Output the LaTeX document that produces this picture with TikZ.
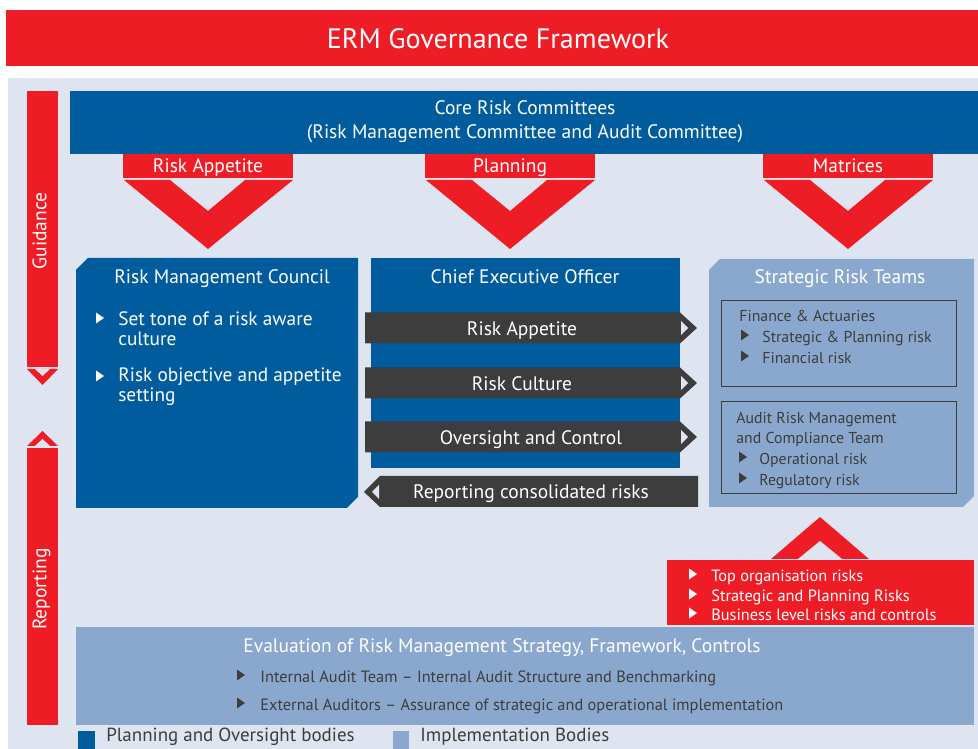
\documentclass[tikz,border=0pt]{standalone}
\usepackage{fontspec}
\setmainfont{PT Sans}
\usepackage{tikz}
\usetikzlibrary{positioning, calc}
\definecolor{ermred}{HTML}{EE1D25}
\definecolor{ermblue}{HTML}{005C9C}
\definecolor{ermlight}{HTML}{8AA8CE}
\definecolor{ermbg}{HTML}{DEE5F0}
\definecolor{ermgray}{HTML}{3D3D3D}
% small bullet triangle: x, y, colour
\newcommand{\bultri}[3]{\fill[#3] (#1,#2-5.5) -- (#1+8,#2) -- (#1,#2+5.5) -- cycle;}

\begin{document}
\begin{tikzpicture}[x=0.02cm, y=-0.02cm,
    line/.style={inner sep=0pt, text height=1.6ex, text depth=0.25ex, yshift=-1.1pt},
    headtxt/.style={line, text=white, yshift=-1.2pt, font=\fontsize{16}{19}\selectfont},
    bigtxt/.style={line, text=white, font=\fontsize{11.1}{13.6}\selectfont},
    listtxt/.style={text=white, inner sep=0pt, anchor=west, align=left, font=\fontsize{11}{11.4}\selectfont},
    teamtxt/.style={line, text=ermgray, anchor=west, font=\fontsize{9}{11}\selectfont},
    redtxt/.style={line, text=white, anchor=west, font=\fontsize{9.3}{10}\selectfont},
    evaltxt/.style={line, text=ermgray, anchor=west, font=\fontsize{9.3}{10}\selectfont},
    keytxt/.style={inner sep=0pt, text height=1.6ex, text depth=0.25ex, text=ermgray, anchor=west, font=\fontsize{10.8}{12}\selectfont}]
  \useasboundingbox (0,0) rectangle (978,749);
  % title
  \fill[ermred] (6,10) rectangle (978,66);
  \node[headtxt] (title) at (498,39) {ERM Governance Framework};
  \fill[ermbg] (8,78) rectangle (978,749);

  % guidance / reporting bars
  \fill[ermred] (27,91) rectangle (58,367);
  \fill[ermred] (27,369) -- (58,369) -- (42.5,385) -- cycle;
  \fill[ermbg] (35,369) -- (50,369) -- (42.5,376) -- cycle;
  \node[bigtxt, rotate=90, yshift=1.1pt] (guide) at (42.5,229) {Guidance};
  \fill[ermred] (27,448) rectangle (58,725);
  \fill[ermred] (27,446) -- (58,446) -- (42.5,431) -- cycle;
  \fill[ermbg] (35,446) -- (50,446) -- (42.5,439) -- cycle;
  \node[bigtxt, rotate=90, yshift=1.1pt] (report) at (42.5,587) {Reporting};

  % core committees
  \fill[ermblue] (70,91) rectangle (978,154);
  \node[bigtxt] (core1) at (525,107) {Core Risk Committees};
  \node[bigtxt] (core2) at (525,131) {(Risk Management Committee and Audit Committee)};

  % red tabs with chevrons
  \foreach \c/\lab/\nm in {208/Risk Appetite/appetite, 510/Planning/planning, 848/Matrices/matrices} {
    \fill[ermred] (\c-85,154) rectangle (\c+85,178);
    \node[bigtxt] (\nm) at (\c,165) {\lab};
    \fill[ermred] (\c-84,180) -- (\c-38,180) -- (\c,211) -- (\c+37,180)
      -- (\c+85,180) -- (\c,249) -- cycle;
  }

  % risk management council
  \fill[ermblue] (88,258) -- (358,258) -- (358,497) -- (347,508) -- (76,508) -- (76,270) -- cycle;
  \node[bigtxt] (rmc) at (222,276) {Risk Management Council};
  \bultri{96}{318}{white}
  \node[listtxt] (tone) at (118,329) {Set tone of a risk aware\\culture};
  \bultri{96}{376}{white}
  \node[listtxt] (objective) at (118,387) {Risk objective and appetite\\setting};

  % chief executive officer
  \fill[ermblue] (371,258) rectangle (680,468);
  \node[bigtxt] (ceo) at (525,276) {Chief Executive Officer};
  \foreach \y/\lab/\nm/\cx in {328/Risk Appetite/arrA/522, 383/Risk Culture/arrB/522, 437/Oversight and Control/arrC/531} {
    \fill[ermgray] (365,\y-15.5) -- (680,\y-15.5) -- (697,\y) -- (680,\y+15.5) -- (365,\y+15.5) -- cycle;
    \fill[ermbg] (681,\y-7) -- (688,\y) -- (681,\y+7) -- cycle;
    \node[bigtxt] (\nm) at (\cx,\y) {\lab};
  }
  \fill[ermgray] (364,492) -- (380,476) -- (698,476) -- (698,507) -- (380,507) -- cycle;
  \fill[ermbg] (372,492) -- (379,485) -- (379,499) -- cycle;
  \node[bigtxt] (consol) at (531,491) {Reporting consolidated risks};

  % strategic risk teams
  \fill[ermlight] (720,259) -- (974,259) -- (974,496) -- (963,507) -- (709,507) -- (709,270) -- cycle;
  \node[bigtxt] (srt) at (840,276) {Strategic Risk Teams};
  \draw[ermgray, line width=0.5pt] (721,300) rectangle (956,386);
  \node[teamtxt] (finance) at (739,314) {Finance \& Actuaries};
  \bultri{741}{335}{ermgray}
  \node[teamtxt] (stratrisk) at (762,335) {Strategic \& Planning risk};
  \bultri{741}{356}{ermgray}
  \node[teamtxt] (finrisk) at (762,356) {Financial risk};
  \draw[ermgray, line width=0.5pt] (721,401) rectangle (956,493);
  \node[teamtxt] (audit1) at (736,416) {Audit Risk Management};
  \node[teamtxt] (audit2) at (736,436) {and Compliance Team};
  \bultri{739}{457}{ermgray}
  \node[teamtxt] (oprisk) at (759,457) {Operational risk};
  \bultri{739}{478}{ermgray}
  \node[teamtxt] (regrisk) at (759,478) {Regulatory risk};

  % red reporting box
  \fill[ermred] (771,559) -- (820,517) -- (869,559) -- cycle;
  \fill[ermbg] (798,559) -- (820,541) -- (842,559) -- cycle;
  \fill[ermred] (667,560) rectangle (974,625);
  \bultri{689}{574}{white}
  \node[redtxt] (toprisk) at (711,574) {Top organisation risks};
  \bultri{689}{594}{white}
  \node[redtxt] (planrisk) at (711,594) {Strategic and Planning Risks};
  \bultri{689}{613}{white}
  \node[redtxt] (busrisk) at (711,613) {Business level risks and controls};

  % evaluation
  \fill[ermlight] (76,627) rectangle (974,725);
  \node[bigtxt] (eval) at (502,645) {Evaluation of Risk Management Strategy, Framework, Controls};
  \bultri{237}{675}{ermgray}
  \node[evaltxt] (internal) at (260,675) {Internal Audit Team -- Internal Audit Structure and Benchmarking};
  \bultri{237}{703}{ermgray}
  \node[evaltxt] (external) at (260,703) {External Auditors -- Assurance of strategic and operational implementation};

  % legend
  \fill[ermblue] (78,731) rectangle (95,749);
  \node[keytxt] (keyplan) at (106,736) {Planning and Oversight bodies};
  \fill[ermlight] (393,731) rectangle (409,749);
  \node[keytxt] (keyimpl) at (420,736) {Implementation Bodies};
\end{tikzpicture}
\end{document}
